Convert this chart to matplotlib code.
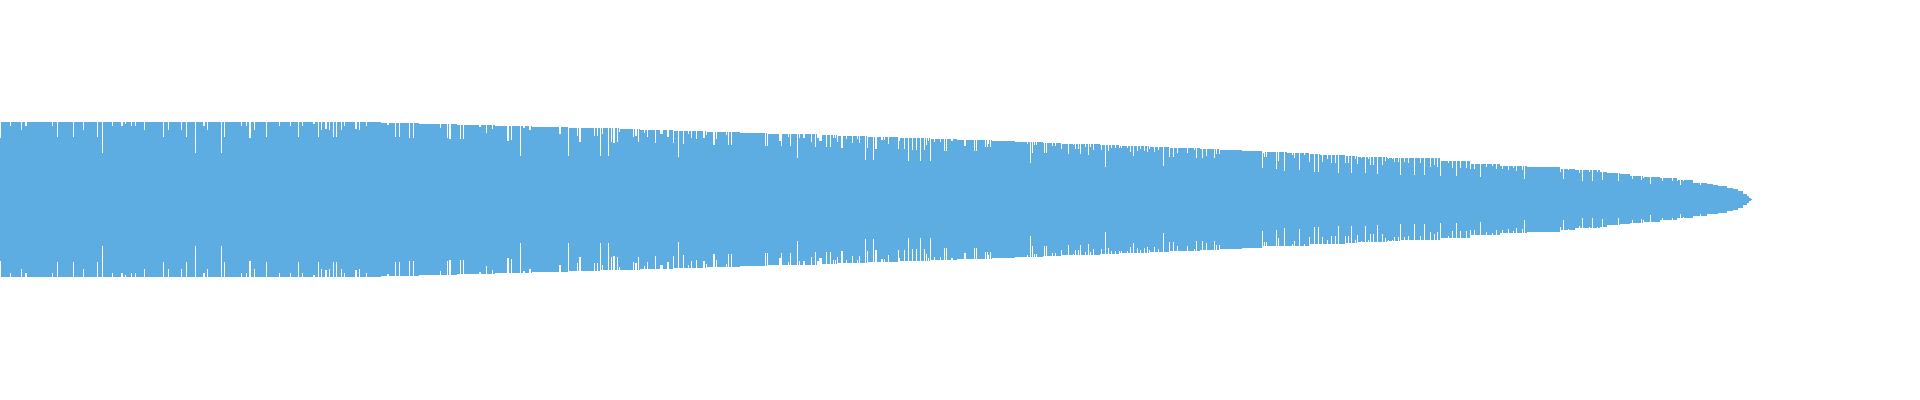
import numpy as np
import matplotlib
matplotlib.use('Agg')
import matplotlib.pyplot as plt

# waveform envelope: segment start (sample) and half height
seg_start = [0, 381, 390, 419, 457, 495, 513, 532, 569, 582, 600, 620, 640, 647, 674,
             707, 740, 768, 800, 818, 838, 868, 900, 930, 957, 992, 1015, 1043, 1061,
             1100, 1120, 1150, 1170, 1200, 1220, 1242, 1262, 1287, 1310, 1320, 1345,
             1357, 1387, 1400, 1440, 1470, 1500, 1528, 1560, 1575, 1600, 1607, 1620,
             1630, 1643, 1660, 1677, 1693, 1707, 1713, 1718, 1727, 1733, 1738, 1743,
             1747, 1749, 1751]
seg_half = [77.6, 76.6, 76.3, 75.3, 74.3, 73.6, 73.3, 72.3, 71.6, 71.3, 71.0, 70.6, 69.6,
            69.3, 68.3, 67.6, 66.6, 65.3, 65.3, 64.3, 63.3, 62.3, 61.3, 60.3, 59.3, 58.3,
            57.3, 56.3, 55.3, 54.3, 53.5, 52.3, 51.3, 50.3, 49.3, 48.3, 47.0, 46.3, 45.0,
            44.3, 43.3, 42.5, 41.6, 41.0, 38.5, 35.5, 33.5, 32.6, 30.3, 29.0, 27.6, 26.0,
            25.0, 23.6, 22.3, 21.0, 19.0, 16.6, 15.0, 14.3, 13.3, 11.6, 10.3, 8.3, 5.6,
            3.6, 1.6, 0.5]
n_samples = 1752

# shorter samples (dips) below the envelope
dip_x = [0, 10, 21, 25, 26, 52, 57, 73, 83, 97, 102, 112, 121, 122, 125, 131, 135, 144,
         163, 168, 181, 186, 195, 203, 204, 207, 221, 224, 241, 246, 249, 250, 254, 266,
         279, 290, 298, 302, 313, 314, 318, 321, 325, 326, 329, 333, 336, 341, 344, 355,
         356, 359, 366, 387, 388, 395, 399, 409, 413, 440, 447, 449, 450, 460, 463, 479,
         480, 486, 492, 507, 508, 511, 520, 523, 524, 529, 530, 559, 560, 568, 577, 579,
         580, 594, 597, 600, 602, 608, 611, 613, 614, 617, 619, 633, 635, 636, 638, 644,
         647, 655, 660, 661, 662, 667, 668, 673, 678, 683, 688, 691, 696, 703, 704, 706,
         713, 714, 716, 726, 728, 731, 765, 767, 779, 780, 781, 788, 790, 797, 799, 803,
         804, 811, 815, 817, 818, 819, 820, 821, 826, 830, 833, 835, 837, 841, 842, 846,
         852, 857, 859, 865, 867, 873, 875, 876, 881, 882, 884, 888, 898, 899, 904, 908,
         912, 916, 920, 924, 926, 928, 930, 934, 940, 944, 946, 951, 952, 964, 965, 974,
         976, 985, 987, 988, 990, 1027, 1030, 1032, 1034, 1036, 1044, 1046, 1052, 1055,
         1061, 1068, 1073, 1075, 1078, 1080, 1085, 1088, 1090, 1093, 1101, 1105, 1108,
         1111, 1115, 1119, 1121, 1127, 1130, 1133, 1137, 1140, 1144, 1147, 1149, 1154,
         1158, 1163, 1169, 1173, 1177, 1187, 1194, 1196, 1202, 1204, 1206, 1214, 1216,
         1219, 1262, 1263, 1264, 1266, 1276, 1278, 1284, 1292, 1294, 1299, 1304, 1309,
         1314, 1318, 1322, 1327, 1331, 1335, 1338, 1345, 1348, 1351, 1355, 1357, 1361,
         1365, 1368, 1370, 1373, 1377, 1382, 1385, 1388, 1392, 1394, 1398, 1400, 1404,
         1408, 1414, 1420, 1424, 1430, 1434, 1437, 1440, 1448, 1452, 1456, 1460, 1466,
         1470, 1474, 1480, 1486, 1492, 1496, 1502, 1508, 1513, 1516, 1522, 1524, 1527,
         1530, 1560, 1563, 1567, 1568, 1579, 1582, 1589, 1592, 1597, 1602, 1612, 1618,
         1632, 1641, 1643, 1650, 1662, 1672, 1677, 1680, 1683, 1700, 1712, 1722, 1725]
dip_half = [61.6, 73.6, 69.6, 73.6, 73.6, 73.6, 62.6, 62.6, 69.6, 62.6, 46.6, 73.6, 73.6,
            73.6, 75.6, 73.6, 73.6, 69.6, 62.6, 69.6, 69.6, 62.6, 46.6, 73.6, 73.6, 69.6,
            46.6, 62.6, 73.6, 73.6, 61.6, 61.6, 69.6, 62.6, 73.6, 73.6, 62.6, 73.6, 75.6,
            75.6, 62.6, 69.6, 70.6, 70.6, 69.6, 62.6, 62.6, 69.6, 73.6, 70.6, 70.6, 69.6,
            73.6, 74.6, 74.6, 62.6, 62.6, 61.6, 61.6, 71.6, 61.6, 60.6, 60.6, 60.6, 60.6,
            72.6, 72.6, 66.6, 70.6, 58.6, 58.6, 59.6, 43.6, 71.6, 71.6, 69.6, 69.6, 65.6,
            65.6, 43.6, 63.6, 57.6, 57.6, 63.6, 63.6, 43.6, 65.6, 43.6, 57.6, 56.6, 56.6,
            57.6, 67.6, 62.6, 63.6, 63.6, 57.6, 66.6, 62.6, 56.6, 65.6, 65.6, 65.6, 62.6,
            62.6, 56.6, 42.6, 55.6, 65.6, 61.6, 60.6, 61.6, 61.6, 64.6, 54.6, 54.6, 60.6,
            64.6, 54.6, 54.6, 53.6, 53.6, 58.6, 58.6, 53.6, 62.6, 53.6, 41.6, 61.6, 61.6,
            61.6, 57.6, 52.6, 61.6, 61.6, 58.6, 58.6, 58.6, 52.6, 52.6, 61.0, 61.0, 57.6,
            51.6, 51.6, 60.6, 56.6, 60.6, 56.6, 39.6, 51.6, 39.6, 50.6, 50.6, 59.6, 59.6,
            59.6, 55.6, 50.6, 58.6, 50.6, 38.6, 49.6, 49.6, 38.6, 49.6, 54.6, 58.6, 38.6,
            57.6, 57.6, 48.6, 48.6, 58.6, 58.6, 53.6, 53.6, 48.6, 48.6, 52.6, 52.6, 55.6,
            52.6, 55.6, 36.6, 46.6, 54.6, 54.6, 46.6, 46.6, 53.6, 53.6, 50.6, 45.6, 54.6,
            50.6, 50.6, 45.6, 52.6, 44.6, 52.6, 49.6, 49.6, 32.6, 48.6, 51.6, 51.6, 51.6,
            51.6, 51.6, 47.6, 43.6, 48.6, 50.6, 48.6, 47.6, 50.6, 47.6, 49.6, 33.6, 42.6,
            42.6, 46.6, 46.6, 49.6, 41.6, 41.6, 50.6, 43.6, 41.6, 45.6, 45.6, 31.6, 46.6,
            42.6, 42.6, 30.6, 38.6, 28.6, 44.6, 41.6, 29.6, 44.6, 37.6, 27.6, 27.6, 37.6,
            40.6, 36.6, 36.6, 26.6, 36.6, 36.6, 26.6, 40.6, 35.6, 41.6, 26.6, 40.6, 34.6,
            34.6, 25.6, 34.6, 38.6, 40.6, 40.6, 37.6, 37.6, 24.6, 37.6, 36.6, 24.3, 36.6,
            24.6, 32.6, 34.6, 32.6, 23.3, 36.6, 31.6, 23.3, 31.6, 31.6, 30.6, 30.6, 22.6,
            32.6, 33.6, 30.6, 30.6, 29.6, 31.6, 28.6, 29.6, 20.6, 32.6, 32.6, 27.6, 20.6,
            31.6, 29.6, 26.6, 18.6, 27.6, 18.6, 27.6, 19.6, 27.6, 18.3, 20.3, 19.6, 21.0,
            15.6, 18.6, 18.6, 18.6, 14.6, 18.0, 14.6, 18.0, 17.3, 14.0, 8.6, 9.6, 8.6]

wave_color = '#5DADE2'

# build sample heights from the segments, then apply the dips
ends = seg_start[1:] + [n_samples]
half = np.repeat(seg_half, np.diff(seg_start + [n_samples]))
for x, h in zip(dip_x, dip_half):
    half[x] = min(half[x], h)
xs = np.arange(n_samples)

fig = plt.figure(figsize=(19.2, 4), dpi=100)
ax = fig.add_axes([0, 0, 1, 1])
ax.bar(xs, 2 * half, bottom=-half, width=1.0, align='edge', color=wave_color,
       linewidth=0, antialiased=False)
ax.set_xlim(0, 1920)
ax.set_ylim(-200.7, 199.3)
ax.axis('off')

fig.savefig('out.png', dpi=100, facecolor='white')
